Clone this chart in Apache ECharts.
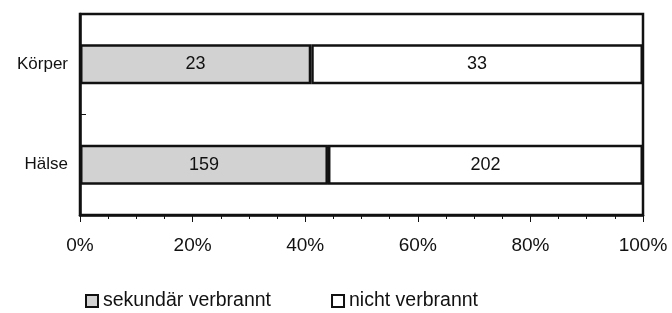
<!DOCTYPE html>
<html>
<head>
<meta charset="utf-8">
<script src="https://cdn.jsdelivr.net/npm/echarts@6/dist/echarts.min.js"></script>
<style>
  html, body { margin: 0; padding: 0; background: #fff; }
  #chart { width: 672px; height: 313px; }
</style>
</head>
<body>
<div id="chart"></div>
<script>
const categories = ['Hälse', 'Körper']
const seriesNames = ['sekundär verbrannt', 'nicht verbrannt']
const sekundaer = [159, 23]
const nicht = [202, 33]
const xTicks = [0, 20, 40, 60, 80, 100]

const totals = categories.map((c, i) => sekundaer[i] + nicht[i])
const toPercent = arr => arr.map((v, i) => ({ value: v / totals[i] * 100, raw: v }))

const FONT = 'Liberation Sans, Arial, sans-serif'
const INK = '#111'

const chart = echarts.init(document.getElementById('chart'))

const barStyle = fill => ({
  color: fill,
  borderColor: INK,
  borderWidth: 2.5
})

const barLabel = {
  show: true,
  position: 'inside',
  color: INK,
  fontFamily: FONT,
  fontSize: 18,
  formatter: p => p.data.raw
}

chart.setOption({
  animation: false,
  textStyle: { fontFamily: FONT },
  grid: {
    left: 80,
    right: 29,
    top: 14,
    bottom: 98,
    show: true,
    borderColor: INK,
    borderWidth: 2.5,
    backgroundColor: '#fff'
  },
  legend: {
    data: seriesNames,
    left: 80,
    top: 286,
    icon: 'rect',
    itemWidth: 12,
    itemHeight: 12,
    itemGap: 60,
    textStyle: { color: INK, fontSize: 19.5, fontFamily: FONT },
    itemStyle: { borderColor: INK, borderWidth: 2 }
  },
  xAxis: {
    type: 'value',
    min: xTicks[0],
    max: xTicks[xTicks.length - 1],
    interval: 20,
    splitLine: { show: false },
    axisLine: { show: true, lineStyle: { color: INK, width: 2.5 } },
    axisTick: { show: true, length: 7, lineStyle: { color: INK, width: 1 } },
    minorTick: { show: true, splitNumber: 4, length: 4, lineStyle: { color: INK, width: 1 } },
    axisLabel: {
      color: INK,
      fontSize: 19,
      margin: 21,
      formatter: '{value}%'
    }
  },
  yAxis: {
    type: 'category',
    data: categories,
    axisLine: { show: true, lineStyle: { color: INK, width: 2.5 } },
    axisTick: { show: true, inside: true, length: 6, lineStyle: { color: INK, width: 1 } },
    axisLabel: { color: INK, fontSize: 17, margin: 12 }
  },
  series: [
    {
      name: seriesNames[0],
      type: 'bar',
      stack: 'total',
      barCategoryGap: '60%',
      data: toPercent(sekundaer),
      itemStyle: barStyle('#d2d2d2'),
      label: barLabel
    },
    {
      name: seriesNames[1],
      type: 'bar',
      stack: 'total',
      barCategoryGap: '60%',
      data: toPercent(nicht),
      itemStyle: barStyle('#ffffff'),
      label: barLabel
    }
  ]
})
</script>
</body>
</html>
